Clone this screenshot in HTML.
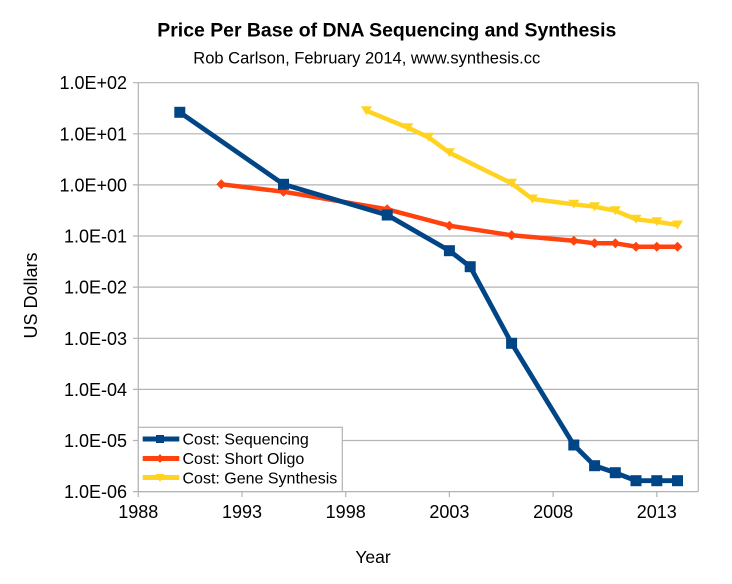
<!DOCTYPE html>
<html>
<head>
<meta charset="utf-8">
<style>
html,body{margin:0;padding:0;background:#fff;}
svg{display:block;}
text{font-family:"Liberation Sans",Arial,Helvetica,sans-serif;fill:#000;}
</style>
</head>
<body>
<svg width="732" height="584" viewBox="0 0 732 584" xmlns="http://www.w3.org/2000/svg">
<rect x="0" y="0" width="732" height="584" fill="#fff"/>
<!-- titles -->
<text x="157.3" y="36.7" font-size="19.4" font-weight="bold" textLength="459" lengthAdjust="spacingAndGlyphs">Price Per Base of DNA Sequencing and Synthesis</text>
<text x="193.3" y="63.3" font-size="16.3" textLength="347" lengthAdjust="spacingAndGlyphs">Rob Carlson, February 2014, www.synthesis.cc</text>

<!-- gridlines -->
<g stroke="#b3b3b3" stroke-width="1.2" fill="none">
<line x1="133" y1="82.7" x2="698.3" y2="82.7"/>
<line x1="133" y1="133.8" x2="698.3" y2="133.8"/>
<line x1="133" y1="184.9" x2="698.3" y2="184.9"/>
<line x1="133" y1="236" x2="698.3" y2="236"/>
<line x1="133" y1="287.1" x2="698.3" y2="287.1"/>
<line x1="133" y1="338.3" x2="698.3" y2="338.3"/>
<line x1="133" y1="389.4" x2="698.3" y2="389.4"/>
<line x1="133" y1="440.5" x2="698.3" y2="440.5"/>
<line x1="133" y1="491.6" x2="698.3" y2="491.6"/>
<line x1="138.3" y1="82.7" x2="138.3" y2="497"/>
<line x1="698.3" y1="82.7" x2="698.3" y2="491.6"/>
<line x1="242" y1="491.6" x2="242" y2="497"/>
<line x1="345.7" y1="491.6" x2="345.7" y2="497"/>
<line x1="449.4" y1="491.6" x2="449.4" y2="497"/>
<line x1="553.1" y1="491.6" x2="553.1" y2="497"/>
<line x1="656.8" y1="491.6" x2="656.8" y2="497"/>
</g>

<!-- y tick labels -->
<g font-size="18" text-anchor="end">
<text x="127" y="89.2">1.0E+02</text>
<text x="127" y="140.3">1.0E+01</text>
<text x="127" y="191.4">1.0E+00</text>
<text x="127" y="242.5">1.0E-01</text>
<text x="127" y="293.6">1.0E-02</text>
<text x="127" y="344.8">1.0E-03</text>
<text x="127" y="395.9">1.0E-04</text>
<text x="127" y="447">1.0E-05</text>
<text x="127" y="498.1">1.0E-06</text>
</g>

<!-- x tick labels -->
<g font-size="18" text-anchor="middle">
<text x="138.3" y="518">1988</text>
<text x="242" y="518">1993</text>
<text x="345.7" y="518">1998</text>
<text x="449.4" y="518">2003</text>
<text x="553.1" y="518">2008</text>
<text x="656.8" y="518">2013</text>
</g>

<text x="373" y="563" font-size="17.5" text-anchor="middle">Year</text>
<text transform="translate(37,295.5) rotate(-90)" font-size="18" text-anchor="middle">US Dollars</text>

<!-- Gene synthesis -->
<polyline fill="none" stroke="#ffd320" stroke-width="4.5" stroke-linejoin="round"
points="366.4,110.7 407.9,127.7 428.6,137.3 449.4,152.7 511.6,183.3 532.4,199 573.8,204.3 594.6,206.7 615.3,210.7 636,219.3 656.8,221.7 677.5,225"/>
<g fill="#ffd320">
<polygon points="360.9,106.2 371.9,106.2 366.4,115.2"/>
<polygon points="402.4,123.2 413.4,123.2 407.9,132.2"/>
<polygon points="423.1,132.8 434.1,132.8 428.6,141.8"/>
<polygon points="443.9,148.2 454.9,148.2 449.4,157.2"/>
<polygon points="506.1,178.8 517.1,178.8 511.6,187.8"/>
<polygon points="526.9,194.5 537.9,194.5 532.4,203.5"/>
<polygon points="568.3,199.8 579.3,199.8 573.8,208.8"/>
<polygon points="589.1,202.2 600.1,202.2 594.6,211.2"/>
<polygon points="609.8,206.2 620.8,206.2 615.3,215.2"/>
<polygon points="630.5,214.8 641.5,214.8 636,223.8"/>
<polygon points="651.3,217.2 662.3,217.2 656.8,226.2"/>
<polygon points="672,220.5 683,220.5 677.5,229.5"/>
</g>

<!-- Short oligo -->
<polyline fill="none" stroke="#ff420e" stroke-width="4.5" stroke-linejoin="round"
points="221.3,184.3 283.5,191.7 387.2,209.3 449.4,225.7 511.6,235.3 573.8,240.7 594.6,243.3 615.3,243.3 636,246.7 656.8,246.7 677.5,246.7"/>
<g fill="#ff420e">
<polygon points="221.3,179.3 226.3,184.3 221.3,189.3 216.3,184.3"/>
<polygon points="283.5,186.7 288.5,191.7 283.5,196.7 278.5,191.7"/>
<polygon points="387.2,204.3 392.2,209.3 387.2,214.3 382.2,209.3"/>
<polygon points="449.4,220.7 454.4,225.7 449.4,230.7 444.4,225.7"/>
<polygon points="511.6,230.3 516.6,235.3 511.6,240.3 506.6,235.3"/>
<polygon points="573.8,235.7 578.8,240.7 573.8,245.7 568.8,240.7"/>
<polygon points="594.6,238.3 599.6,243.3 594.6,248.3 589.6,243.3"/>
<polygon points="615.3,238.3 620.3,243.3 615.3,248.3 610.3,243.3"/>
<polygon points="636,241.7 641,246.7 636,251.7 631,246.7"/>
<polygon points="656.8,241.7 661.8,246.7 656.8,251.7 651.8,246.7"/>
<polygon points="677.5,241.7 682.5,246.7 677.5,251.7 672.5,246.7"/>
</g>

<!-- Sequencing -->
<polyline fill="none" stroke="#004586" stroke-width="4.8" stroke-linejoin="round"
points="179.8,112.3 283.5,184.3 387.2,215 449.4,250.7 470.2,266.7 511.6,343.3 573.8,445 594.6,465.7 615.3,472.7 636,480.7 656.8,480.7 677.5,480.7"/>
<g fill="#004586">
<rect x="174.3" y="106.8" width="11" height="11"/>
<rect x="278" y="178.8" width="11" height="11"/>
<rect x="381.7" y="209.5" width="11" height="11"/>
<rect x="443.9" y="245.2" width="11" height="11"/>
<rect x="464.7" y="261.2" width="11" height="11"/>
<rect x="506.1" y="337.8" width="11" height="11"/>
<rect x="568.3" y="439.5" width="11" height="11"/>
<rect x="589.1" y="460.2" width="11" height="11"/>
<rect x="609.8" y="467.2" width="11" height="11"/>
<rect x="630.5" y="475.2" width="11" height="11"/>
<rect x="651.3" y="475.2" width="11" height="11"/>
<rect x="672" y="475.2" width="11" height="11"/>
</g>

<!-- legend -->
<rect x="138.3" y="427.3" width="204" height="64.3" fill="#fff" stroke="#b3b3b3" stroke-width="1.2"/>
<line x1="142.7" y1="439" x2="179.3" y2="439" stroke="#004586" stroke-width="5"/>
<rect x="156" y="435" width="8" height="8" fill="#004586"/>
<line x1="142.7" y1="458.5" x2="179.3" y2="458.5" stroke="#ff420e" stroke-width="5"/>
<polygon points="160,454 164,458.5 160,463 156,458.5" fill="#ff420e"/>
<line x1="142.7" y1="477.5" x2="179.3" y2="477.5" stroke="#ffd320" stroke-width="5"/>
<polygon points="155.5,474 164.5,474 160,482" fill="#ffd320"/>
<g font-size="16">
<text x="182.5" y="444.5">Cost: Sequencing</text>
<text x="182.5" y="464">Cost: Short Oligo</text>
<text x="182.5" y="483.5">Cost: Gene Synthesis</text>
</g>
</svg>
</body>
</html>
